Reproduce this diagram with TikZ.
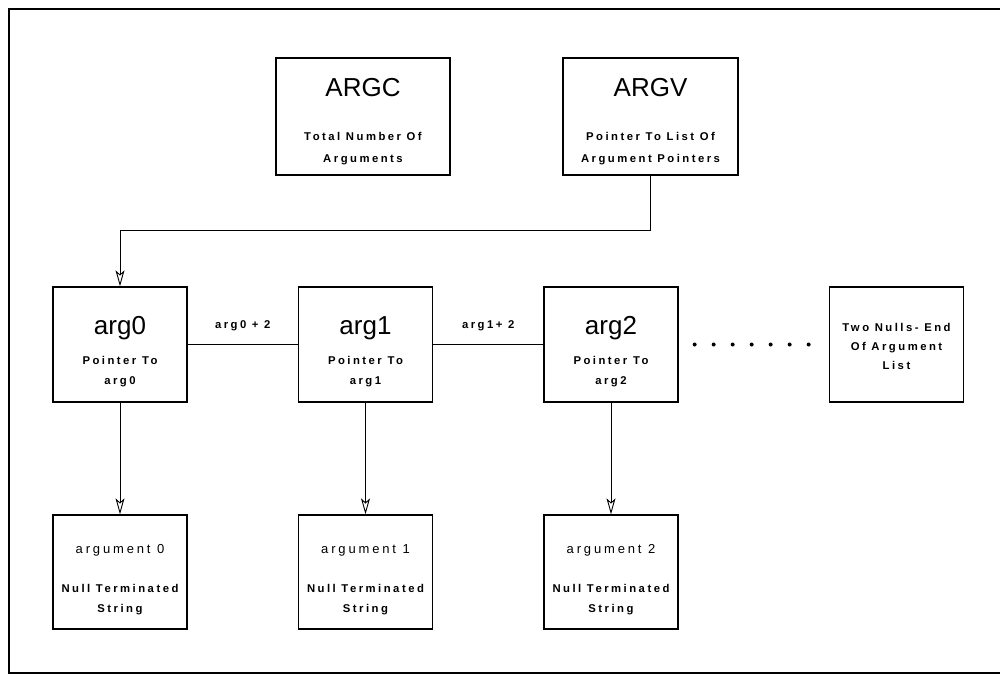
\documentclass[tikz,border=0pt]{standalone}
\usepackage{fontspec}
\setmainfont{Liberation Sans}
\newfontfamily\spacedfont[LetterSpace=22]{Liberation Sans}
\usetikzlibrary{arrows.meta,positioning,calc}
\tikzset{link/.style = {
    line width=0.9pt,
    -{Stealth[open, length=16pt, width=9pt, inset=4pt]},
  }
}

\begin{document}
\begin{tikzpicture}[x=1pt, y=-1pt]
  % vertices
  \tikzstyle{box} = [rectangle, draw, line width=1.3pt, minimum width=134pt, minimum height=115pt, inner sep=0pt]
  \tikzstyle{title} = [font=\fontsize{26}{26}\selectfont, anchor=base, inner sep=0pt]
  \tikzstyle{strtitle} = [font=\spacedfont\fontsize{13}{13}\selectfont, anchor=base, inner sep=0pt]
  \tikzstyle{caption} = [font=\spacedfont\bfseries\fontsize{11.3}{20}\selectfont, align=center, anchor=base, inner sep=0pt]

  \useasboundingbox (0,0) rectangle (1003,675);
  \draw[line width=2.5pt] (1000,9) -- (9,9) -- (9,673) -- (1000,673);

  % base of a caption is the baseline of its last line
  \node[box, minimum width=174pt, minimum height=117pt] (argc) at (363,116.5) {};
  \node[title] (argc-title) at ($(argc.north)+(0,39)$) {ARGC};
  \node[caption] (argc-text) at ($(argc.north)+(0,105)$) {Total Number Of\\[2pt]Arguments};

  \node[box, minimum width=175pt, minimum height=117pt] (argv) at (650.5,116.5) {};
  \node[title] (argv-title) at ($(argv.north)+(0,39)$) {ARGV};
  \node[caption] (argv-text) at ($(argv.north)+(0,105)$) {Pointer To List Of\\[2pt]Argument Pointers};

  \node[box] (arg0) at (120,344.5) {};
  \node[title] (arg0-title) at ($(arg0.north)+(0,48)$) {arg0};
  \node[caption] (arg0-text) at ($(arg0.north)+(0,98)$) {Pointer To\\arg0};

  \node[box] (arg1) at (365.5,344.5) {};
  \node[title] (arg1-title) at ($(arg1.north)+(0,48)$) {arg1};
  \node[caption] (arg1-text) at ($(arg1.north)+(0,98)$) {Pointer To\\arg1};

  \node[box] (arg2) at (611,344.5) {};
  \node[title] (arg2-title) at ($(arg2.north)+(0,48)$) {arg2};
  \node[caption] (arg2-text) at ($(arg2.north)+(0,98)$) {Pointer To\\arg2};

  \node[box] (nulls) at (896.5,344.5) {};
  \node[caption] (nulls-text) at ($(nulls.north)+(0,83)$) {Two Nulls- End\\[-1pt]Of Argument\\[-1pt]List};

  \node[box, minimum height=114pt] (str0) at (120,572) {};
  \node[strtitle] (str0-title) at ($(str0.north)+(0,39)$) {argument 0};
  \node[caption] (str0-text) at ($(str0.north)+(0,98)$) {Null Terminated\\String};

  \node[box, minimum height=114pt] (str1) at (365.5,572) {};
  \node[strtitle] (str1-title) at ($(str1.north)+(0,39)$) {argument 1};
  \node[caption] (str1-text) at ($(str1.north)+(0,98)$) {Null Terminated\\String};

  \node[box, minimum height=114pt] (str2) at (611,572) {};
  \node[strtitle] (str2-title) at ($(str2.north)+(0,39)$) {argument 2};
  \node[caption] (str2-text) at ($(str2.north)+(0,98)$) {Null Terminated\\String};

  % edges
  \draw[link] (argv.south) -- ++(0,55) -| (arg0.north);
  \draw[line width=0.9pt] (arg0.east) -- (arg1.west) node[midway, caption, yshift=16pt] {arg0 + 2};
  \draw[line width=0.9pt] (arg1.east) -- (arg2.west) node[midway, caption, yshift=16pt] {arg1+ 2};
  \draw[line width=4pt, line cap=round, dash pattern=on 0pt off 19pt, shorten <=16pt, shorten >=20pt] (arg2.east) -- (nulls.west);
  \draw[link] (arg0.south) -- (str0.north);
  \draw[link] (arg1.south) -- (str1.north);
  \draw[link] (arg2.south) -- (str2.north);
\end{tikzpicture}
\end{document}
